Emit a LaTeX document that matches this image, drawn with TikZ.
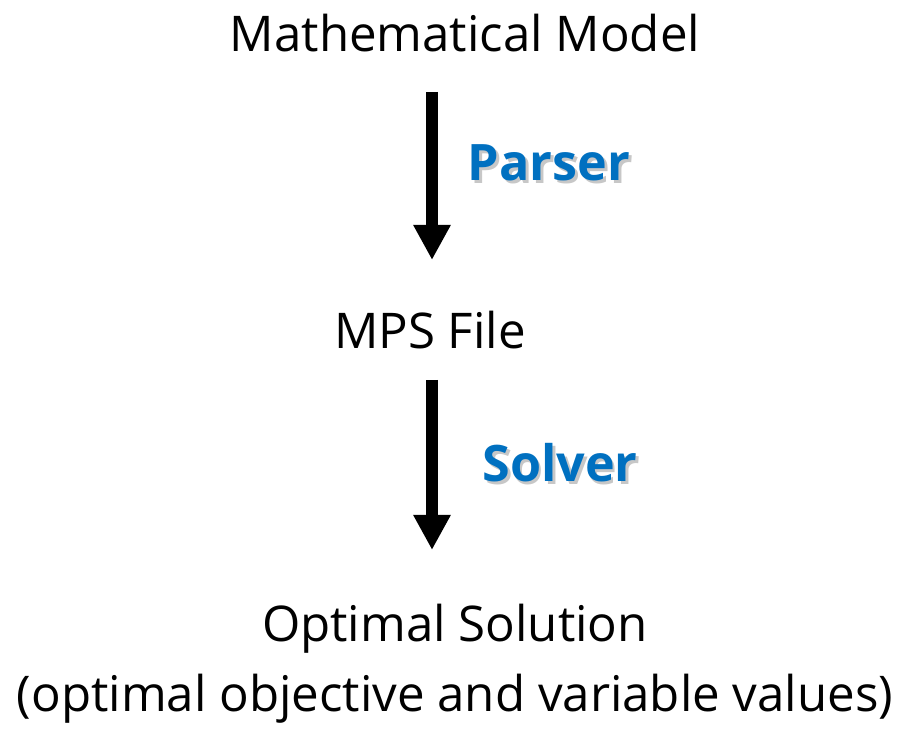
\documentclass[tikz,border=0pt]{standalone}
\usepackage{fontspec}
\setmainfont{Open Sans}
\usetikzlibrary{arrows.meta}

\definecolor{stepblue}{RGB}{0,112,192}
% blue label with a soft grey shadow behind it
\newcommand{\shadowlabel}[1]{\makebox[0pt][l]{\kern0.8pt\raisebox{-0.8pt}{\color{black!22}#1}}#1}

\tikzset{
  stage/.style={font=\fontsize{14}{17}\selectfont, inner sep=0pt},
  tool/.style={font=\fontsize{14.3}{17}\selectfont\bfseries, text=stepblue, inner sep=0pt},
  flow/.style={line width=3.4pt, -{Triangle[width=10pt,length=10pt]}}
}

\begin{document}
\begin{tikzpicture}
\useasboundingbox (0,0) rectangle (9.01,7.43);

% stages of the pipeline
\node[stage] (model) at (4.65,7.10) {Mathematical Model};
\node[stage] (mps) at (4.30,4.13) {MPS File};
\node[stage] (opt) at (4.55,1.14) {Optimal Solution};
\node[stage] (vals) at (4.55,0.44) {(optimal objective and variable values)};

% tools between the stages
\node[tool] (parser) at (5.49,5.79) {\shadowlabel{Parser}};
\node[tool] (solver) at (5.60,2.79) {\shadowlabel{Solver}};

% arrows
\coordinate (p1) at (4.32,6.51);
\coordinate (p2) at (4.32,4.83);
\coordinate (s1) at (4.32,3.63);
\coordinate (s2) at (4.32,1.93);
\draw[flow] (p1) -- (p2);
\draw[flow] (s1) -- (s2);

\end{tikzpicture}
\end{document}
